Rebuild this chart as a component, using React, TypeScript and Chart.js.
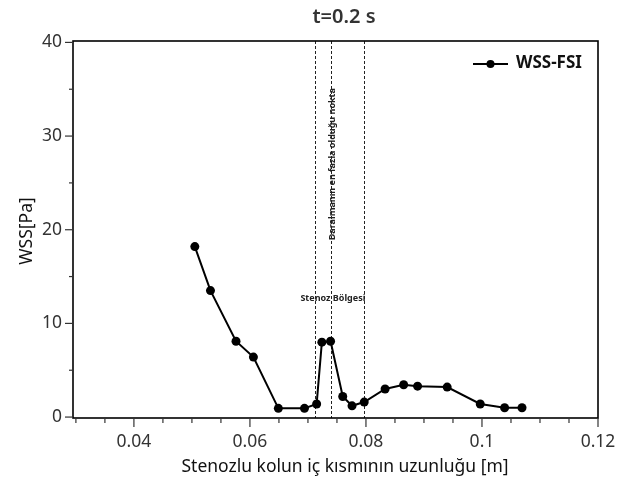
import React, { useEffect, useRef } from "react";
import { Chart, registerables } from "chart.js";

Chart.register(...registerables);

// ---- data ----
const positions = [
  0.0505, 0.0532, 0.0576, 0.0606, 0.0649, 0.0694, 0.0715, 0.0724, 0.0739, 0.076,
  0.0776, 0.0797, 0.0833, 0.0865, 0.0889, 0.094, 0.0997, 0.1039, 0.1069,
];
const wssFsi = [
  18.2, 13.5, 8.1, 6.4, 0.93, 0.93, 1.4, 8.0, 8.1, 2.2, 1.2, 1.6, 3.0, 3.45, 3.3, 3.2,
  1.4, 1.0, 1.0,
];
const seriesLabel = "WSS-FSI";
const chartTitle = "t=0.2 s";
const xAxisTitle = "Stenozlu kolun iç kısmının uzunluğu [m]";
const yAxisTitle = "WSS[Pa]";

const xMajorTicks = [0.04, 0.06, 0.08, 0.1, 0.12];
const xMinorTicks = [
  0.03, 0.035, 0.04, 0.045, 0.05, 0.055, 0.06, 0.065, 0.07, 0.075, 0.08, 0.085, 0.09,
  0.095, 0.1, 0.105, 0.11, 0.115, 0.12,
];
const yMajorTicks = [0, 10, 20, 30, 40];
const yMinorTicks = [0, 5, 10, 15, 20, 25, 30, 35, 40];

const stenosisLines = [0.0713, 0.074, 0.0797];
const stenosisLabel = "Stenoz Bölgesi";
const stenosisLabelPos = { x: 0.0743, y: 12.7 };
const narrowestLabel = "Daralmanın en fazla olduğu nokta";
const narrowestLabelPos = { x: 0.0742, y: 27 };

const FONT = "'Noto Sans', 'Open Sans', sans-serif";

const overlayPlugin = {
  id: "overlay",
  beforeDatasetsDraw(chart: any) {
    const { ctx, chartArea, scales } = chart;
    const xs = scales.x;
    ctx.save();
    ctx.strokeStyle = "#222";
    ctx.lineWidth = 1;
    ctx.setLineDash([3, 2]);
    stenosisLines.forEach((v) => {
      const px = Math.round(xs.getPixelForValue(v)) + 0.5;
      ctx.beginPath();
      ctx.moveTo(px, chartArea.top);
      ctx.lineTo(px, chartArea.bottom);
      ctx.stroke();
    });
    ctx.restore();
  },
  afterDraw(chart: any) {
    const { ctx, chartArea, scales } = chart;
    const xs = scales.x;
    const ys = scales.y;
    ctx.save();
    // frame
    ctx.strokeStyle = "#000";
    ctx.lineWidth = 1.6;
    ctx.strokeRect(chartArea.left, chartArea.top, chartArea.right - chartArea.left, chartArea.bottom - chartArea.top);

    // ticks
    ctx.lineWidth = 1.2;
    ctx.strokeStyle = "#333";
    xMinorTicks.forEach((v) => {
      const px = xs.getPixelForValue(v);
      const major = xMajorTicks.some((m) => Math.abs(m - v) < 1e-9);
      ctx.beginPath();
      ctx.moveTo(px, chartArea.bottom);
      ctx.lineTo(px, chartArea.bottom + (major ? 9 : 5));
      ctx.stroke();
    });
    yMinorTicks.forEach((v) => {
      const py = ys.getPixelForValue(v);
      const major = yMajorTicks.some((m) => Math.abs(m - v) < 1e-9);
      ctx.beginPath();
      ctx.moveTo(chartArea.left, py);
      ctx.lineTo(chartArea.left - (major ? 8 : 4), py);
      ctx.stroke();
    });

    // chart title
    ctx.fillStyle = "#333";
    ctx.font = `600 20px ${FONT}`;
    ctx.textAlign = "center";
    ctx.textBaseline = "alphabetic";
    ctx.fillText(chartTitle, 344, 23);

    // x axis title
    ctx.fillStyle = "#111";
    ctx.font = `17.5px ${FONT}`;
    ctx.fillText(xAxisTitle, 345, 472);

    // y axis title
    ctx.save();
    ctx.translate(32, (chartArea.top + chartArea.bottom) / 2 + 1.5);
    ctx.rotate(-Math.PI / 2);
    ctx.fillText(yAxisTitle, 0, 0);
    ctx.restore();

    // annotations
    ctx.fillStyle = "#222";
    ctx.font = `bold 9px ${FONT}`;
    ctx.textBaseline = "middle";
    ctx.fillText(stenosisLabel, xs.getPixelForValue(stenosisLabelPos.x), ys.getPixelForValue(stenosisLabelPos.y));
    ctx.save();
    ctx.translate(xs.getPixelForValue(narrowestLabelPos.x), ys.getPixelForValue(narrowestLabelPos.y));
    ctx.rotate(-Math.PI / 2);
    ctx.fillText(narrowestLabel, 0, 0);
    ctx.restore();

    // legend
    const ly = chartArea.top + 23;
    const lx0 = chartArea.right - 125;
    const lx1 = chartArea.right - 90;
    ctx.strokeStyle = "#000";
    ctx.lineWidth = 2;
    ctx.beginPath();
    ctx.moveTo(lx0, ly);
    ctx.lineTo(lx1, ly);
    ctx.stroke();
    ctx.fillStyle = "#000";
    ctx.beginPath();
    ctx.arc((lx0 + lx1) / 2, ly, 4, 0, Math.PI * 2);
    ctx.fill();
    ctx.fillStyle = "#111";
    ctx.font = `bold 17px ${FONT}`;
    ctx.textAlign = "left";
    ctx.textBaseline = "middle";
    ctx.fillText(seriesLabel, chartArea.right - 82, ly - 1);
    ctx.restore();
  },
};

export default function App() {
  const canvasRef = useRef<HTMLCanvasElement | null>(null);

  useEffect(() => {
    if (!canvasRef.current) return;
    const chart = new Chart(canvasRef.current, {
      type: "line",
      data: {
        datasets: [
          {
            label: seriesLabel,
            data: positions.map((x, i) => ({ x, y: wssFsi[i] })),
            borderColor: "#000",
            backgroundColor: "#000",
            borderWidth: 2,
            pointRadius: 4.5,
            pointBorderWidth: 0,
            pointHoverRadius: 4.5,
            pointBackgroundColor: "#000",
            pointBorderColor: "#000",
            tension: 0,
          },
        ],
      },
      options: {
        animation: false,
        responsive: true,
        maintainAspectRatio: false,
        layout: { padding: { top: 41, right: 26, left: 0, bottom: 0 } },
        plugins: {
          legend: { display: false },
          title: { display: false },
          tooltip: { enabled: false },
        },
        scales: {
          x: {
            type: "linear",
            min: 0.0295,
            max: 0.12,
            border: { display: false },
            grid: { display: true, drawOnChartArea: false, drawTicks: false },
            afterBuildTicks: (scale: any) => {
              scale.ticks = xMajorTicks.map((v) => ({ value: v }));
            },
            afterFit: (scale: any) => {
              scale.height = 59;
              scale.paddingLeft = 0;
              scale.paddingRight = 0;
            },
            ticks: {
              padding: 14,
              color: "#333",
              font: { family: FONT, size: 17.5 },
              maxRotation: 0,
              autoSkip: false,
              callback: (v: any) => String(Number(v)),
            },
          },
          y: {
            type: "linear",
            min: -0.1,
            max: 40.15,
            border: { display: false },
            grid: { display: true, drawOnChartArea: false, drawTicks: false },
            afterBuildTicks: (scale: any) => {
              scale.ticks = yMajorTicks.map((v) => ({ value: v }));
            },
            afterFit: (scale: any) => {
              scale.width = 73;
              scale.paddingTop = 0;
              scale.paddingBottom = 0;
            },
            ticks: {
              padding: 11,
              color: "#333",
              font: { family: FONT, size: 17.5 },
              autoSkip: false,
              callback: (v: any) => String(Number(v)),
            },
          },
        },
      },
      plugins: [overlayPlugin],
    });
    return () => chart.destroy();
  }, []);

  return (
    <div style={{ position: "absolute", left: 0, top: 0, width: 624, height: 477, background: "#fff" }}>
      <canvas ref={canvasRef} />
    </div>
  );
}
